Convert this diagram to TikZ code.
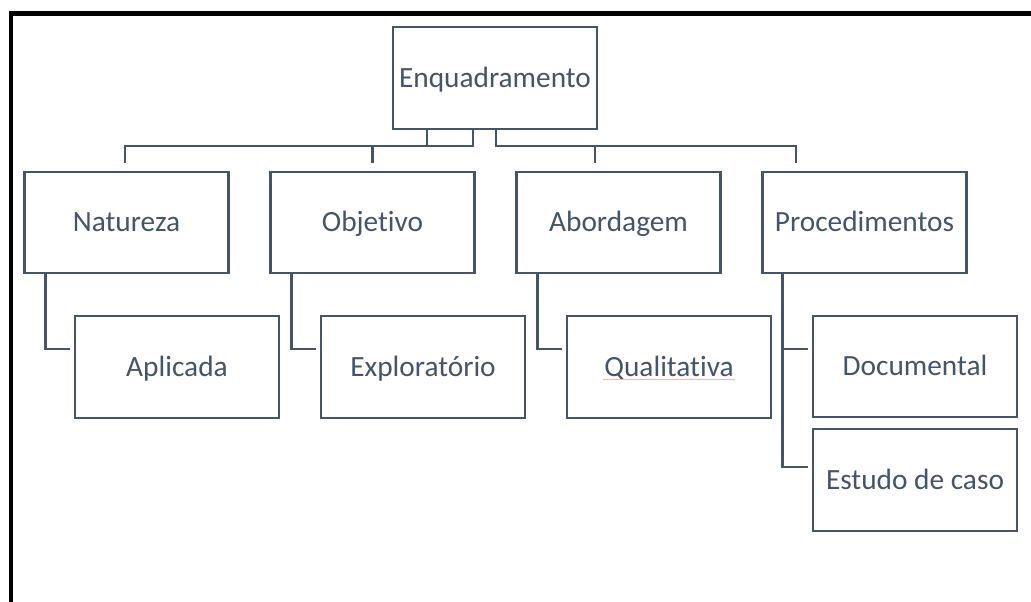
\documentclass[tikz,border=0pt]{standalone}
\usepackage{fontspec}
\setmainfont{Carlito}[Ligatures={NoCommon,NoRequired}]
\usetikzlibrary{calc}
\definecolor{slate}{HTML}{44546A}
\definecolor{spell}{HTML}{F6B3BA}
\tikzset{
  box/.style={draw=slate, line width=1.6pt, fill=white, text=slate,
    minimum width=153pt, minimum height=76pt, inner sep=0pt, outer sep=0pt,
    font=\fontsize{22}{26}\selectfont, text height=14.2pt, text depth=0pt},
  conn/.style={draw=slate, line width=1.6pt},
  frame/.style={draw=black, line width=3.2pt}
}
\begin{document}
\begin{tikzpicture}[x=0.75pt,y=-0.75pt]
\useasboundingbox (0,0) rectangle (1031,602);
\clip (0,0) rectangle (1031,602);
\fill[white] (0,0) rectangle (1031,602);
% outer frame (only top and left edges are visible)
\coordinate (fbl) at (10.8,610);
\coordinate (ftl) at (10.8,13.4);
\coordinate (ftr) at (1040,13.4);
\draw[frame] (fbl) -- (ftl) -- (ftr);
% nodes
\node[box, minimum height=76.5pt] (enq) at (495,78) {Enquadramento};
\node[box] (nat) at (126.5,222.5) {Natureza};
\node[box] (obj) at (372.5,222.5) {Objetivo};
\node[box] (abo) at (618.5,222.5) {Abordagem};
\node[box] (pro) at (864.5,222.5) {Procedimentos};
\node[box] (apl) at (177,367) {Aplicada};
\node[box] (exp) at (423,367) {Exploratório};
\node[box] (qua) at (669,367) {Qualitativa};
\node[box] (doc) at (915,366.5) {Documental};
\node[box] (est) at (915,480) {Estudo de caso};
% spell-check underline
\coordinate (sq1) at ($(qua.center)+(-66,12)$);
\coordinate (sq2) at ($(qua.center)+(66,12)$);
\draw[spell, line width=0.6pt] (sq1) -- (sq2);
% level 1 connectors
\draw[conn] ($(enq.south)+(-68,0)$) -- ++(0,17) -| ($(nat.north)+(-1.5,-9)$);
\draw[conn] ($(enq.south)+(-22,0)$) -- ++(0,17) -| ($(obj.north)+(0,-9)$);
\draw[conn] ($(enq.south)+(1,0)$) -- ++(0,17) -| ($(abo.north)+(-23.5,-9)$);
\draw[conn] ($(enq.south)+(1,17)$) -| ($(pro.north)+(-68.5,-9)$);
% level 2 connectors
\draw[conn] ($(nat.south west)+(21,0)$) |- ($(apl.west)+(-5,-18)$);
\draw[conn] ($(obj.south west)+(21,0)$) |- ($(exp.west)+(-5,-18)$);
\draw[conn] ($(abo.south west)+(21,0)$) |- ($(qua.west)+(-5,-18)$);
\draw[conn] ($(pro.south west)+(20,0)$) |- ($(doc.west)+(-5,-17.5)$);
\draw[conn] ($(pro.south west)+(20,0)$) |- ($(est.west)+(-5,-13)$);
\end{tikzpicture}
\end{document}
